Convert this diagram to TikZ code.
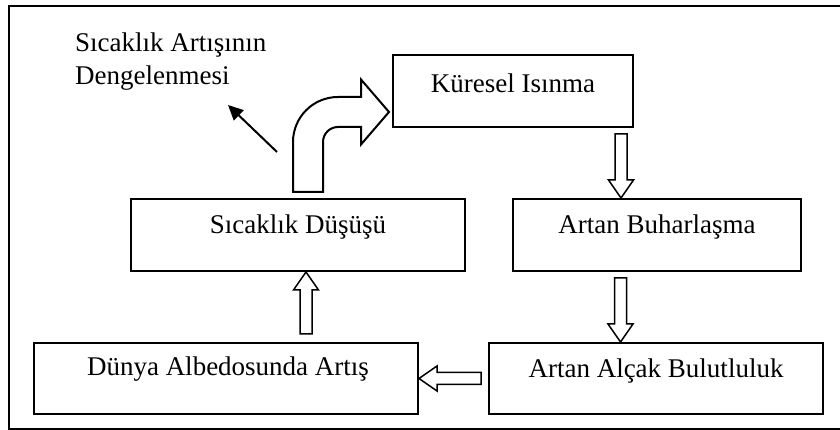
\documentclass[tikz,border=0pt]{standalone}
\usepackage{fontspec}
\setmainfont{Liberation Serif}
\usetikzlibrary{calc,arrows.meta}
\tikzset{
  box/.style={draw, line width=2pt, inner sep=0pt},
  lbl/.style={font=\fontsize{27}{33}\selectfont, inner sep=0pt, anchor=base},
  hollow/.style={draw, line width=1.5pt, fill=white, line join=miter},
  pointer/.style={line width=2pt, -{Triangle[length=15pt,width=14pt]}},
}
% hollow block arrow from #1 (tail centre) to #2 (tip)
\newcommand\hollowarrow[2]{%
  \path (#1) coordinate (ha-s) ($(#2)!18pt!(#1)$) coordinate (ha-h);
  \draw[hollow] ($(ha-s)!6pt!90:(#2)$) -- ($(ha-h)!6pt!90:(#2)$)
    -- ($(ha-h)!12.5pt!90:(#2)$) -- (#2) -- ($(ha-h)!12.5pt!-90:(#2)$)
    -- ($(ha-h)!6pt!-90:(#2)$) -- ($(ha-s)!6pt!-90:(#2)$) -- cycle;
}
\begin{document}
\begin{tikzpicture}[x=1pt,y=1pt]
\useasboundingbox (0,0) rectangle (840,430);
\begin{scope}
  \clip (0,0) rectangle (840,430);
  \draw[line width=2pt] (9,0.5) rectangle (846,424);
\end{scope}

% boxes
\node[box, minimum width=240pt, minimum height=72pt] (kur) at (513,339) {};
\node[box, minimum width=334pt, minimum height=72pt] (sic) at (298,195) {};
\node[box, minimum width=288pt, minimum height=72pt] (buh) at (657,195) {};
\node[box, minimum width=334pt, minimum height=71pt] (alc) at (656,51.5) {};
\node[box, minimum width=384pt, minimum height=71pt] (dun) at (226,51.5) {};

% box texts
\node[lbl] (kurT) at ([yshift=-2pt]kur.center) {Küresel Isınma};
\node[lbl] (sicT) at ([yshift=1pt]sic.center) {Sıcaklık Düşüşü};
\node[lbl] (buhT) at ([yshift=1pt]buh.center) {Artan Buharlaşma};
\node[lbl] (alcT) at ([yshift=0.5pt]alc.center) {Artan Alçak Bulutluluk};
\node[lbl] (dunT) at ([xshift=2pt,yshift=2.5pt]dun.center) {Dünya Albedosunda Artış};

% side note (base anchor sits on the last line)
\node[font=\fontsize{27}{33}\selectfont, inner sep=0pt, align=left, anchor=base west]
  (note) at (75,345) {Sıcaklık Artışının\\Dengelenmesi};

% straight block arrows
\coordinate (k2b) at ([xshift=108pt,yshift=-6pt]kur.south);
\coordinate (b2a) at ([xshift=-36.5pt,yshift=-6pt]buh.south);
\coordinate (a2d) at ([xshift=-7pt]alc.west);
\coordinate (d2s) at ([xshift=80pt,yshift=8pt]dun.north);
\hollowarrow{k2b}{buh.north -| k2b}
\hollowarrow{b2a}{alc.north -| b2a}
\hollowarrow{a2d}{dun.east |- a2d}
\hollowarrow{d2s}{sic.south -| d2s}

% bent block arrow from the lower box up into the top box
\coordinate (cb) at ([xshift=10pt,yshift=6pt]sic.north);
\coordinate (ct) at ([xshift=-3pt,yshift=-21pt]kur.west);
\draw[hollow, line width=2pt] let \p1=(cb), \p2=(ct) in
  (\x1-15,\y1) -- (\x1-15,\y2-30)
  arc[start angle=180, end angle=90, radius=45]
  -- (\x2-28,\y2+15) -- (\x2-28,\y2+32.5) -- (\x2,\y2)
  -- (\x2-28,\y2-32.5) -- (\x2-28,\y2-15) -- (\x1+30,\y2-15)
  arc[start angle=90, end angle=180, radius=15]
  -- (\x1+15,\y1) -- cycle;

% pointer towards the note
\coordinate (ps) at (277,278);
\coordinate (pe) at (228,325);
\draw[pointer] (ps) -- (pe);
\end{tikzpicture}
\end{document}
